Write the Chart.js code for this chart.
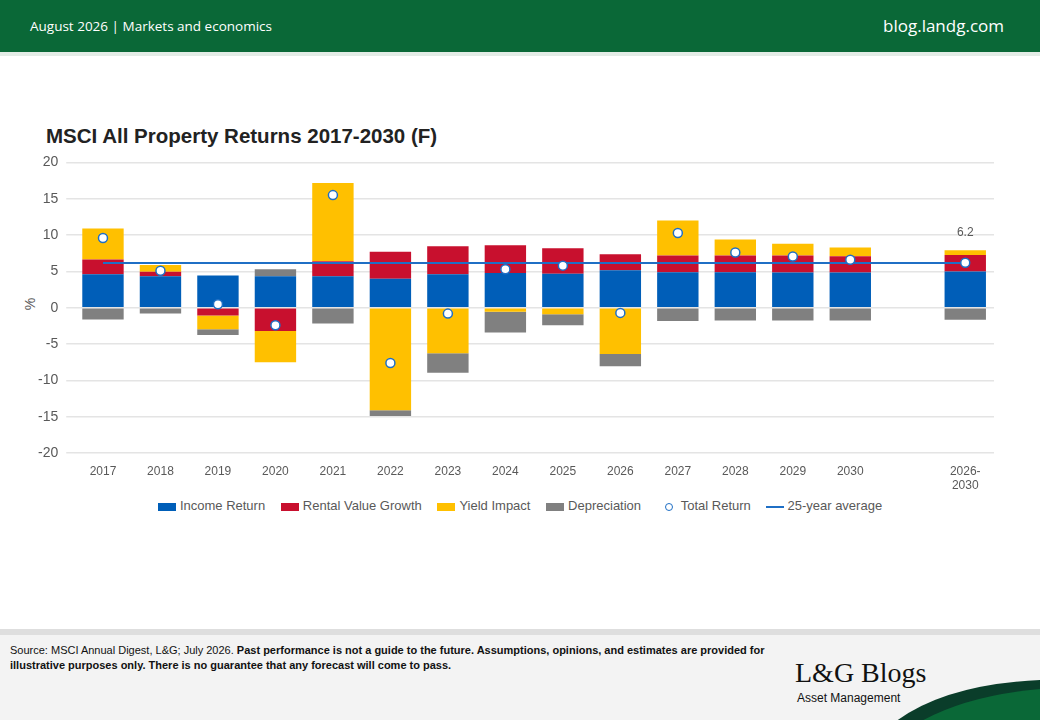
<!DOCTYPE html>
<html><head><meta charset="utf-8">
<script src="https://cdn.jsdelivr.net/npm/chart.js@4"></script>
<style>
body{margin:0;width:1040px;height:720px;overflow:hidden;background:#fff;font-family:"Open Sans",Arial,sans-serif;position:relative}
#hdr{position:absolute;left:0;top:0;width:1040px;height:52px;background:#0a6837;color:#fff}
#hdr .l{position:absolute;left:30px;top:17px;font-size:13.5px}
#hdr .r{position:absolute;right:36px;top:14px;font-size:17px}
#stripe{position:absolute;top:52px;left:0;width:1040px;height:4px;background:#e3ece6}
#title{position:absolute;left:46px;top:124px;font:bold 20.5px "Liberation Sans",Arial,sans-serif;color:#222}
#ylab{position:absolute;left:24px;top:296px;font:14px "Liberation Sans",Arial;color:#595959;transform:rotate(-90deg)}
#wrap{position:absolute;left:30px;top:146px;width:970px;height:350px}
#legend{position:absolute;top:497px;left:0;width:1040px;text-align:center;font:13px "Liberation Sans",Arial;color:#595959}
#legend span{display:inline-block;margin:0 6px;vertical-align:middle}
.sw{display:inline-block;width:18px;height:8px;margin-right:4px;vertical-align:middle}
#foot{position:absolute;left:0;top:629px;width:1040px;height:91px;background:#f3f3f3;border-top:6px solid #dedede;overflow:hidden}
#src{position:absolute;left:10px;top:8px;font:11px "Liberation Sans Narrow","Liberation Sans",Arial;color:#111;line-height:15px;width:760px}
#logo{position:absolute;left:795px;top:22px;font:28px "Liberation Serif","DejaVu Serif",serif;color:#111}
#am{position:absolute;left:797px;top:56px;font:12px "Liberation Sans Narrow","Liberation Sans",Arial;color:#111}
</style></head><body>
<div id="hdr"><div class="l">August 2026 | Markets and economics</div><div class="r">blog.landg.com</div></div>
<div id="stripe"></div>
<div id="title">MSCI All Property Returns 2017-2030 (F)</div>
<div id="ylab">%</div>
<div id="wrap"><canvas id="c"></canvas></div>
<div id="legend">
<span><i class="sw" style="background:#005EB8"></i>Income Return</span>
<span><i class="sw" style="background:#C8102E"></i>Rental Value Growth</span>
<span><i class="sw" style="background:#FFC000"></i>Yield Impact</span>
<span><i class="sw" style="background:#808080"></i>Depreciation</span>
<span><i style="display:inline-block;width:6px;height:6px;border:1.5px solid #1F6FC5;border-radius:50%;margin:0 8px;vertical-align:middle"></i>Total Return</span>
<span><i style="display:inline-block;width:18px;height:2px;background:#1F6FC5;margin-right:3px;vertical-align:middle"></i>25-year average</span>
</div>
<div id="foot">
<div id="src">Source: MSCI Annual Digest, L&amp;G; July 2026. <b>Past performance is not a guide to the future. Assumptions, opinions, and estimates are provided for illustrative purposes only. There is no guarantee that any forecast will come to pass.</b></div>
<div id="logo">L&amp;G Blogs</div>
<div id="am">Asset Management</div>
<svg style="position:absolute;left:870px;top:40px" width="170" height="60"><path d="M10 60 Q60 10 170 5 L170 60 Z" fill="#0a3d2a"/><path d="M30 60 Q80 22 170 14 L170 60 Z" fill="#0a6837"/></svg>
</div>
<script>
const categories=['2017','2018','2019','2020','2021','2022','2023','2024','2025','2026','2027','2028','2029','2030','',['2026-','2030']];
const incomeReturn=[4.6,4.35,4.45,4.35,4.35,4.0,4.6,4.8,4.7,5.15,4.9,4.9,4.85,4.85,null,5.0];
const rentalValueGrowth=[2.05,0.6,-1.05,-3.2,2.05,3.7,3.85,3.8,3.5,2.2,2.3,2.3,2.35,2.25,null,2.25];
const yieldImpact=[4.25,0.95,-1.9,-4.3,10.75,-14.1,-6.25,-0.55,-0.9,-6.35,4.8,2.2,1.6,1.2,null,0.65];
const depreciation=[-1.6,-0.8,-0.8,0.95,-2.15,-0.8,-2.7,-2.85,-1.5,-1.7,-1.8,-1.75,-1.75,-1.75,null,-1.65];
const totalReturn=[9.6,5.1,0.5,-2.4,15.5,-7.6,-0.8,5.3,5.8,-0.7,10.3,7.6,7.05,6.6,null,6.2];
const average25=[6.15,6.15,6.15,6.15,6.15,6.15,6.15,6.15,6.15,6.15,6.15,6.15,6.15,6.15,6.15,6.15];
const yTicks=[20,15,10,5,0,-5,-10,-15,-20];
const bar=(l,d,c)=>({type:'bar',label:l,data:d,backgroundColor:c,stack:'s',barPercentage:0.72,categoryPercentage:1,order:3});
const labelPlugin={id:'lbl',afterDatasetsDraw(ch){const m=ch.getDatasetMeta(4);const i=totalReturn.length-1;const p=m.data[i];const x=p.x;
 const y=ch.scales.y.getPixelForValue(incomeReturn[i]+rentalValueGrowth[i]+yieldImpact[i]);const g=ch.ctx;g.save();g.font='12px "Liberation Sans",Arial';g.fillStyle='#595959';g.textAlign='center';g.fillText(String(totalReturn[i]),x,y-14);g.restore();}};
new Chart(document.getElementById('c'),{data:{labels:categories,datasets:[
bar('Income Return',incomeReturn,'#005EB8'),bar('Rental Value Growth',rentalValueGrowth,'#C8102E'),bar('Yield Impact',yieldImpact,'#FFC000'),bar('Depreciation',depreciation,'#808080'),
{type:'line',label:'Total Return',data:totalReturn,stack:'t',showLine:false,pointRadius:4.5,pointBackgroundColor:'#fff',pointBorderColor:'#1F6FC5',pointBorderWidth:1.5,order:1},
{type:'line',label:'25-year average',data:average25,stack:'a',borderColor:'#1F6FC5',borderWidth:2,pointRadius:0,order:2}
]},options:{responsive:true,maintainAspectRatio:false,animation:false,
layout:{padding:{right:5}},
plugins:{legend:{display:false},tooltip:{enabled:false}},
scales:{x:{stacked:true,grid:{display:false},border:{display:false},ticks:{color:'#595959',font:{size:12,family:'"Liberation Sans",Arial'},autoSkip:false,maxRotation:0}},
y:{stacked:true,min:-20,max:20,afterBuildTicks(a){a.ticks=yTicks.map(v=>({value:v}));},grid:{color:'#e4e4e4',lineWidth:1.5},border:{display:false},ticks:{color:'#595959',font:{size:14,family:'"Liberation Sans",Arial'},padding:8}}}},
plugins:[labelPlugin]});
</script></body></html>
